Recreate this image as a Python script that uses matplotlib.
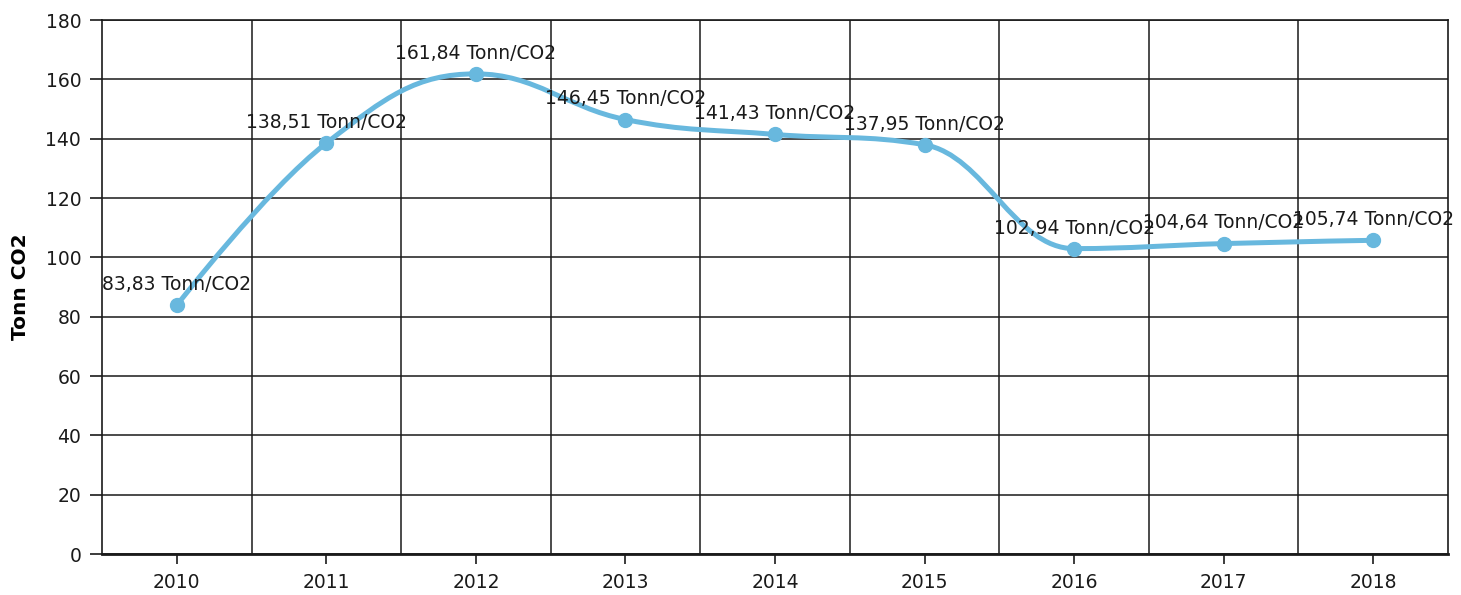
import matplotlib
matplotlib.use("Agg")
import matplotlib.pyplot as plt
import numpy as np
from matplotlib.path import Path
from matplotlib.patches import PathPatch

years = ["2010", "2011", "2012", "2013", "2014", "2015", "2016", "2017", "2018"]
emissions = [83.83, 138.51, 161.84, 146.45, 141.43, 137.95, 102.94, 104.64, 105.74]
unit = "Tonn/CO2"
y_ticks = [0, 20, 40, 60, 80, 100, 120, 140, 160, 180]

LINE_COLOR = "#68b8de"
GRID_COLOR = "#1a1a1a"


def spline_path(xs, ys, smoothing=1.5):
    """Cubic bezier path through the points, same idea as a Highcharts spline."""
    denom = smoothing + 1
    n = len(xs)
    left = [None] * n
    right = [None] * n
    for i in range(1, n - 1):
        px, py = xs[i], ys[i]
        lx, ly = xs[i - 1], ys[i - 1]
        nx, ny = xs[i + 1], ys[i + 1]
        lcx = (smoothing * px + lx) / denom
        lcy = (smoothing * py + ly) / denom
        rcx = (smoothing * px + nx) / denom
        rcy = (smoothing * py + ny) / denom
        corr = (rcy - lcy) * (rcx - px) / (rcx - lcx) + py - rcy
        lcy += corr
        rcy += corr
        # keep control points from overshooting the neighbours
        if lcy > ly and lcy > py:
            lcy = max(ly, py)
            rcy = 2 * py - lcy
        elif lcy < ly and lcy < py:
            lcy = min(ly, py)
            rcy = 2 * py - lcy
        if rcy > ny and rcy > py:
            rcy = max(ny, py)
            lcy = 2 * py - rcy
        elif rcy < ny and rcy < py:
            rcy = min(ny, py)
            lcy = 2 * py - rcy
        left[i] = (lcx, lcy)
        right[i] = (rcx, rcy)
    verts = [(xs[0], ys[0])]
    codes = [Path.MOVETO]
    for i in range(1, n):
        c1 = right[i - 1] if right[i - 1] is not None else (xs[i - 1], ys[i - 1])
        c2 = left[i] if left[i] is not None else (xs[i], ys[i])
        verts += [c1, c2, (xs[i], ys[i])]
        codes += [Path.CURVE4] * 3
    return Path(verts, codes)


plt.rcParams["font.family"] = ["DejaVu Sans"]

fig = plt.figure(figsize=(14.61, 5.95), dpi=100)
ax = fig.add_axes([102 / 1461, 41 / 595, 1346 / 1461, 534 / 595])

x = np.arange(len(years))
ax.set_xlim(-0.5, len(years) - 0.5)
ax.set_ylim(0, 180)

patch = PathPatch(spline_path(list(x), emissions), facecolor="none",
                  edgecolor=LINE_COLOR, linewidth=3.6, capstyle="round",
                  joinstyle="round", zorder=3)
ax.add_patch(patch)
ax.plot(x, emissions, linestyle="none", marker="o", markersize=10,
        color=LINE_COLOR, zorder=4)

for xi, val in zip(x, emissions):
    label = f"{val:.2f}".replace(".", ",") + " " + unit
    ax.annotate(label, (xi, val), xytext=(0, 8), textcoords="offset points",
                ha="center", va="bottom", fontsize=13.5, color="#1a1a1a",
                zorder=5)

ax.set_xticks(x)
ax.set_xticklabels(years)
ax.set_xticks(np.arange(0.5, len(years) - 1, 1.0), minor=True)
ax.set_yticks(y_ticks)

ax.grid(True, which="minor", axis="x", color=GRID_COLOR, linewidth=1.1)
ax.grid(True, which="major", axis="y", color=GRID_COLOR, linewidth=1.1)
ax.set_axisbelow(True)

ax.tick_params(axis="x", which="major", length=7, width=1.2, pad=7,
               labelsize=13.5, color=GRID_COLOR, labelcolor="#1a1a1a")
ax.tick_params(axis="x", which="minor", length=0)
ax.tick_params(axis="y", length=9, width=1.2, pad=6, labelsize=13.5,
               color=GRID_COLOR, labelcolor="#1a1a1a")

for side in ["left", "right", "top"]:
    ax.spines[side].set_linewidth(1.2)
    ax.spines[side].set_color(GRID_COLOR)
ax.spines["bottom"].set_linewidth(2.0)
ax.spines["bottom"].set_color(GRID_COLOR)

ax.set_ylabel("Tonn CO2", fontsize=14.5, fontweight="bold", labelpad=11)

fig.savefig("out.png", dpi=100)
